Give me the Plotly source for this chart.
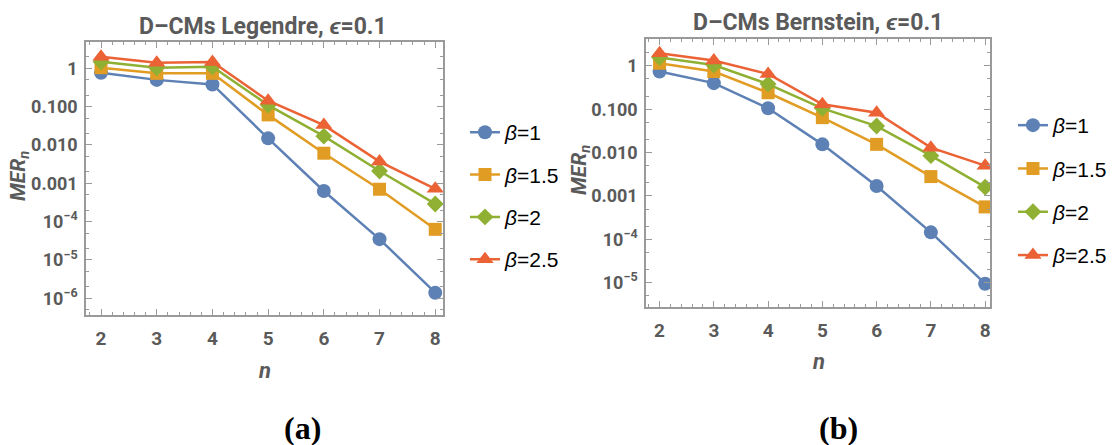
import plotly.graph_objects as go

n_vals = [2, 3, 4, 5, 6, 7, 8]
betas = ["1", "1.5", "2", "2.5"]

# Legendre panel (a)
leg_b1 = [0.77, 0.50, 0.38, 0.0149, 6.3e-4, 3.5e-5, 1.4e-6]
leg_b15 = [1.04, 0.74, 0.74, 0.061, 0.0061, 7.0e-4, 6.3e-5]
leg_b2 = [1.49, 1.04, 1.10, 0.11, 0.017, 0.0021, 2.9e-4]
leg_b25 = [2.0, 1.4, 1.46, 0.143, 0.033, 0.0037, 7.2e-4]

# Bernstein panel (b)
ber_b1 = [0.74, 0.40, 0.105, 0.0155, 0.0017, 1.45e-4, 9.5e-6]
ber_b15 = [1.15, 0.74, 0.24, 0.064, 0.0155, 0.0028, 5.6e-4]
ber_b2 = [1.56, 1.05, 0.38, 0.105, 0.041, 0.0085, 0.0016]
ber_b25 = [1.96, 1.33, 0.65, 0.13, 0.083, 0.013, 0.005]

ytick_vals = [1, 0.1, 0.01, 0.001, 1e-4, 1e-5, 1e-6]
ytick_text = ["1", "0.100", "0.010", "0.001", "10<sup>−4</sup>", "10<sup>−5</sup>", "10<sup>−6</sup>"]

colors = ["#5E81B5", "#E19C24", "#8FB032", "#EB6235"]
symbols = ["circle", "square", "diamond", "triangle-up"]
msizes = [14, 13, 13, 15]

SANS = "Roboto, Liberation Sans, Arial, sans-serif"
GRAY = "#5a5a5a"
FRAME = "#9a9a9a"

fig = go.Figure()

for panel, series, xa, ya, lg in [
    ("a", [leg_b1, leg_b15, leg_b2, leg_b25], "x", "y", "legend"),
    ("b", [ber_b1, ber_b15, ber_b2, ber_b25], "x2", "y2", "legend2"),
]:
    for i, vals in enumerate(series):
        fig.add_trace(go.Scatter(
            x=n_vals, y=vals, xaxis=xa, yaxis=ya,
            mode="lines+markers",
            name="<i>β</i>=" + betas[i],
            legend=lg,
            legendgroup=panel + str(i),
            line=dict(color=colors[i], width=2.5),
            marker=dict(symbol=symbols[i], size=msizes[i], color=colors[i]),
        ))

def xaxis_cfg(domain, rng, anchor):
    return dict(
        domain=domain, range=rng, tickvals=n_vals, anchor=anchor,
        ticks="inside", ticklen=6, tickcolor=FRAME, showline=True, linecolor=FRAME,
        linewidth=1.5, mirror="allticks", showgrid=False, zeroline=False,
        tickfont=dict(family=SANS, size=19, color=GRAY, weight="bold"),
        ticklabelstandoff=5,
        minor=dict(ticks="inside", ticklen=3, tickcolor=FRAME, dtick=0.2, showgrid=False),
    )

def yaxis_cfg(domain, rng, anchor):
    return dict(
        domain=domain, type="log", range=rng, anchor=anchor,
        tickvals=ytick_vals, ticktext=ytick_text,
        ticks="inside", ticklen=6, tickcolor=FRAME, showline=True, linecolor=FRAME,
        linewidth=1.5, mirror="allticks", showgrid=False, zeroline=False,
        tickfont=dict(family=SANS, size=18, color=GRAY, weight="bold"),
        ticklabelstandoff=3,
        minor=dict(ticks="inside", ticklen=3, tickcolor=FRAME, showgrid=False),
    )

fig.update_layout(
    width=1114, height=445,
    margin=dict(l=0, r=0, t=0, b=0),
    paper_bgcolor="white", plot_bgcolor="white",
    xaxis=xaxis_cfg([0.0772, 0.3977], [1.73, 8.14], "y"),
    yaxis=yaxis_cfg([0.2921, 0.9056], [-6.436, 0.687], "x"),
    xaxis2=xaxis_cfg([0.5799, 0.8887], [1.75, 8.09], "y2"),
    yaxis2=yaxis_cfg([0.3101, 0.9124], [-5.56, 0.62], "x2"),
    legend=dict(x=0.4174, y=0.748, xanchor="left", yanchor="top",
                font=dict(family="Liberation Sans, Arial, sans-serif", size=21, color="black"),
                tracegroupgap=12, bgcolor="rgba(0,0,0,0)"),
    legend2=dict(x=0.9093, y=0.764, xanchor="left", yanchor="top",
                 font=dict(family="Liberation Sans, Arial, sans-serif", size=21, color="black"),
                 tracegroupgap=13, bgcolor="rgba(0,0,0,0)"),
    showlegend=True,
)

annots = [
    dict(text="<b>D–CMs Legendre, <i>ϵ</i>=0.1</b>", x=263, y=26, font=dict(family=SANS, size=23, color=GRAY)),
    dict(text="<b>D–CMs Bernstein, <i>ϵ</i>=0.1</b>", x=818, y=23, font=dict(family=SANS, size=23, color=GRAY)),
    dict(text="<i><b>n</b></i>", x=264, y=370, font=dict(family=SANS, size=22, color=GRAY)),
    dict(text="<i><b>n</b></i>", x=818, y=361, font=dict(family=SANS, size=22, color=GRAY)),
    dict(text="<i><b>MER<sub>n</sub></b></i>", x=20, y=176, textangle=-90, font=dict(family=SANS, size=21, color=GRAY)),
    dict(text="<i><b>MER<sub>n</sub></b></i>", x=580, y=170, textangle=-90, font=dict(family=SANS, size=21, color=GRAY)),
    dict(text="<b>(a)</b>", x=302, y=428, font=dict(family="Liberation Serif, Times New Roman, serif", size=32, color="black")),
    dict(text="<b>(b)</b>", x=838, y=428, font=dict(family="Liberation Serif, Times New Roman, serif", size=32, color="black")),
]
for a in annots:
    fig.add_annotation(text=a["text"], x=a["x"] / 1114, y=1 - a["y"] / 445,
                       xref="paper", yref="paper", showarrow=False,
                       xanchor="center", yanchor="middle",
                       textangle=a.get("textangle", 0), font=a["font"])

fig.write_html("out.html")
